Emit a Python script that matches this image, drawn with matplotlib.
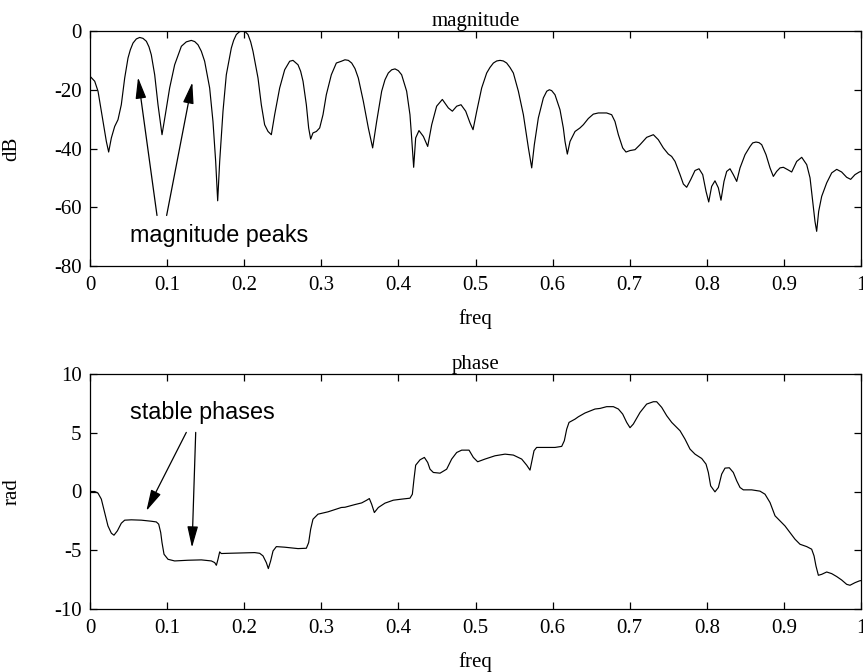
import matplotlib
matplotlib.use("Agg")
import matplotlib.pyplot as plt
from matplotlib.ticker import FuncFormatter

plt.rcParams["axes.unicode_minus"] = False
plt.rcParams["font.family"] = ["Liberation Serif", "DejaVu Serif"]

# ---- magnitude response (dB) ----
mag_freq = [
    0.0, 0.0061, 0.0104, 0.0169, 0.0212, 0.0242, 0.0277, 0.0320, 0.0363, 0.0406,
    0.0450, 0.0493, 0.0523, 0.0558, 0.0601, 0.0644, 0.0687, 0.0731, 0.0765, 0.0795,
    0.0839, 0.0882, 0.0934, 0.0977, 0.1033, 0.1098, 0.1185, 0.1249, 0.1314, 0.1358,
    0.1401, 0.1444, 0.1487, 0.1552, 0.1595, 0.1630, 0.1656, 0.1682, 0.1725, 0.1768,
    0.1833, 0.1863, 0.1898, 0.1941, 0.1984, 0.2015, 0.2049, 0.2084, 0.2114, 0.2179,
    0.2222, 0.2265, 0.2309, 0.2352, 0.2395, 0.2460, 0.2525, 0.2590, 0.2633, 0.2698,
    0.2732, 0.2763, 0.2806, 0.2836, 0.2862, 0.2892, 0.2936, 0.2979, 0.3022, 0.3065,
    0.3130, 0.3195, 0.3260, 0.3307, 0.3351, 0.3394, 0.3437, 0.3480, 0.3545, 0.3610,
    0.3666, 0.3718, 0.3783, 0.3826, 0.3869, 0.3913, 0.3956, 0.3999, 0.4042, 0.4107,
    0.4150, 0.4172, 0.4198, 0.4224, 0.4267, 0.4324, 0.4380, 0.4432, 0.4496, 0.4570,
    0.4648, 0.4700, 0.4756, 0.4812, 0.4873, 0.4929, 0.4968, 0.5016, 0.5080, 0.5145,
    0.5188, 0.5232, 0.5275, 0.5318, 0.5361, 0.5404, 0.5447, 0.5491, 0.5556, 0.5621,
    0.5686, 0.5729, 0.5763, 0.5815, 0.5880, 0.5924, 0.5958, 0.5988, 0.6031, 0.6096,
    0.6139, 0.6161, 0.6191, 0.6226, 0.6291, 0.6355, 0.6399, 0.6463, 0.6528, 0.6593,
    0.6615, 0.6701, 0.6766, 0.6809, 0.6853, 0.6909, 0.6952, 0.7004, 0.7069, 0.7134,
    0.7220, 0.7307, 0.7371, 0.7436, 0.7501, 0.7544, 0.7588, 0.7653, 0.7696, 0.7739,
    0.7791, 0.7847, 0.7899, 0.7947, 0.7990, 0.8025, 0.8063, 0.8106, 0.8150, 0.8184,
    0.8223, 0.8258, 0.8301, 0.8344, 0.8388, 0.8431, 0.8496, 0.8561, 0.8595, 0.8638,
    0.8677, 0.8712, 0.8768, 0.8820, 0.8863, 0.8906, 0.8950, 0.8993, 0.9049, 0.9101,
    0.9166, 0.9231, 0.9296, 0.9339, 0.9373, 0.9403, 0.9425, 0.9451, 0.9490, 0.9555,
    0.9620, 0.9685, 0.9749, 0.9814, 0.9866, 0.9922, 0.9978, 1.0,
]
mag_db = [
    -15.4, -17.1, -20.5, -30.8, -37.6, -41.2, -36.4, -32.5, -30.2, -25.1,
    -16.0, -9.2, -6.4, -4.1, -2.7, -2.2, -2.5, -3.5, -5.4, -8.1,
    -14.9, -25.1, -35.3, -28.5, -19.4, -11.5, -5.2, -3.7, -3.2, -3.6,
    -4.7, -6.9, -10.3, -19.4, -30.8, -44.4, -57.8, -44.4, -27.3, -14.9,
    -5.8, -3.2, -1.2, -0.2, -0.05, -0.3, -1.2, -3.7, -6.9, -16.0,
    -25.1, -31.9, -34.2, -35.3, -28.5, -19.4, -13.2, -10.3, -10.0, -11.5,
    -13.7, -17.1, -25.1, -33.0, -36.8, -34.7, -34.2, -33.0, -28.5, -21.7,
    -14.9, -10.9, -10.3, -9.8, -10.0, -10.9, -12.8, -16.0, -23.9, -33.0,
    -39.8, -30.8, -20.5, -16.6, -14.3, -13.2, -12.9, -13.5, -14.9, -20.5,
    -28.5, -36.4, -46.4, -36.4, -33.9, -35.9, -39.3, -31.9, -25.6, -23.3,
    -26.2, -27.3, -25.6, -25.1, -27.3, -31.3, -33.6, -27.3, -19.4, -14.3,
    -12.4, -10.9, -10.2, -10.0, -10.2, -10.9, -12.4, -14.3, -20.5, -28.5,
    -39.8, -46.6, -38.7, -29.6, -22.8, -20.5, -20.0, -20.3, -21.7, -26.8,
    -33.0, -37.6, -41.9, -37.6, -34.2, -33.0, -31.9, -29.8, -28.3, -27.9,
    -27.9, -27.9, -28.5, -30.8, -35.3, -39.8, -41.2, -40.7, -40.4, -38.7,
    -36.2, -35.3, -37.0, -39.8, -41.9, -42.7, -44.4, -48.9, -52.1, -53.2,
    -50.6, -47.5, -46.9, -48.9, -54.6, -58.2, -52.9, -51.0, -53.4, -57.6,
    -51.2, -47.8, -46.9, -48.9, -51.2, -46.6, -42.1, -39.3, -38.1, -37.8,
    -38.0, -38.7, -42.1, -46.6, -49.5, -47.8, -46.6, -46.4, -47.2, -48.0,
    -44.4, -43.0, -45.5, -50.0, -58.0, -64.8, -68.2, -61.4, -56.3, -51.7,
    -48.3, -47.1, -48.0, -49.8, -50.5, -48.9, -48.0, -47.8,
]

# ---- unwrapped phase (rad) ----
phase_freq = [
    0.0, 0.0061, 0.0104, 0.0147, 0.0190, 0.0233, 0.0277, 0.0311, 0.0355, 0.0406,
    0.0450, 0.0536, 0.0666, 0.0795, 0.0860, 0.0891, 0.0917, 0.0934, 0.0960, 0.1012,
    0.1098, 0.1271, 0.1444, 0.1574, 0.1617, 0.1639, 0.1660, 0.1682, 0.1703, 0.1790,
    0.1963, 0.2136, 0.2201, 0.2244, 0.2287, 0.2313, 0.2343, 0.2374, 0.2417, 0.2525,
    0.2698, 0.2806, 0.2836, 0.2862, 0.2892, 0.2957, 0.3087, 0.3260,
    0.3307, 0.3437, 0.3524, 0.3589, 0.3623, 0.3653, 0.3688, 0.3740, 0.3826, 0.3934,
    0.4042, 0.4150, 0.4181, 0.4202, 0.4224, 0.4281, 0.4337, 0.4380, 0.4410, 0.4453,
    0.4540, 0.4626, 0.4691, 0.4756, 0.4821, 0.4916, 0.4972, 0.5028, 0.5123, 0.5253,
    0.5383, 0.5491, 0.5599, 0.5664, 0.5707, 0.5737, 0.5759, 0.5793, 0.5901, 0.6031,
    0.6118, 0.6152, 0.6183, 0.6213, 0.6291, 0.6334, 0.6420, 0.6550,
    0.6615, 0.6701, 0.6788, 0.6853, 0.6909, 0.6961, 0.7004, 0.7047, 0.7134, 0.7220,
    0.7307, 0.7350, 0.7415, 0.7480, 0.7545, 0.7653, 0.7717, 0.7782, 0.7847, 0.7934,
    0.7990, 0.8020, 0.8050, 0.8106, 0.8150, 0.8193, 0.8236, 0.8292, 0.8344, 0.8388,
    0.8431, 0.8474, 0.8582, 0.8690, 0.8755, 0.8820, 0.8885, 0.8950, 0.9014, 0.9079,
    0.9144, 0.9209, 0.9296, 0.9360, 0.9391, 0.9416, 0.9447, 0.9490, 0.9555, 0.9620,
    0.9685, 0.9749, 0.9814, 0.9857, 0.9922, 0.9978, 1.0,
]
phase_rad = [
    0.0, 0.0, -0.14, -0.65, -1.79, -2.93, -3.55, -3.72, -3.35, -2.70,
    -2.44, -2.41, -2.44, -2.53, -2.59, -2.78, -3.49, -4.35, -5.34, -5.77,
    -5.91, -5.85, -5.82, -5.91, -6.05, -6.28, -5.77, -5.14, -5.28, -5.26,
    -5.23, -5.20, -5.26, -5.48, -6.05, -6.56, -5.91, -5.06, -4.69, -4.74,
    -4.86, -4.83, -4.35, -3.21, -2.36, -1.93, -1.73, -1.36,
    -1.34, -1.11, -0.97, -0.74, -0.60, -1.08, -1.79, -1.36, -0.99, -0.74,
    -0.65, -0.57, -0.23, 1.05, 2.24, 2.70, 2.90, 2.47, 1.90, 1.62,
    1.56, 1.90, 2.76, 3.32, 3.52, 3.52, 2.90, 2.53, 2.76, 3.04,
    3.18, 3.10, 2.76, 2.24, 1.82, 2.76, 3.47, 3.75, 3.75, 3.75,
    3.84, 4.32, 5.31, 5.88, 6.16, 6.36, 6.68, 7.02,
    7.07, 7.22, 7.22, 7.02, 6.59, 5.88, 5.43, 5.74, 6.73, 7.44,
    7.64, 7.64, 7.16, 6.45, 5.88, 5.17, 4.46, 3.61, 3.18, 2.81,
    2.33, 1.62, 0.48, -0.03, 0.34, 1.48, 1.99, 2.02, 1.62, 0.91,
    0.34, 0.14, 0.14, 0.03, -0.23, -0.94, -2.07, -2.50, -2.93, -3.49,
    -4.06, -4.49, -4.69, -4.91, -5.48, -6.34, -7.13, -7.05, -6.85, -6.99,
    -7.24, -7.53, -7.90, -7.98, -7.76, -7.61, -7.58,
]

freq_ticks = [0, 0.1, 0.2, 0.3, 0.4, 0.5, 0.6, 0.7, 0.8, 0.9, 1.0]
mag_ticks = [-80, -60, -40, -20, 0]
phase_ticks = [-10, -5, 0, 5, 10]

FS = 15
ANN_FS = 16.8
SANS = ["Liberation Sans", "DejaVu Sans"]

fig = plt.figure(figsize=(8.63, 6.72), dpi=100)
ax1 = fig.add_axes([90 / 863, 1 - 266 / 672, 771 / 863, 235 / 672])
ax2 = fig.add_axes([90 / 863, 1 - 609 / 672, 771 / 863, 235 / 672])

fmt = FuncFormatter(lambda v, p: "%g" % v)


def style(ax, yticks, ylim, title, ylabel):
    ax.set_xlim(0, 1)
    ax.set_ylim(*ylim)
    ax.set_xticks(freq_ticks)
    ax.set_yticks(yticks)
    ax.xaxis.set_major_formatter(fmt)
    ax.yaxis.set_major_formatter(fmt)
    ax.tick_params(direction="in", top=True, right=True, length=5,
                   width=0.9, labelsize=FS, pad=7, colors="black")
    ax.tick_params(axis="y", pad=6)
    for s in ax.spines.values():
        s.set_linewidth(0.9)
    ax.set_title(title, fontsize=FS, pad=3.5)
    ax.set_xlabel("freq", fontsize=FS, labelpad=10)
    ax.set_ylabel(ylabel, fontsize=FS)
    ax.yaxis.set_label_coords(-0.089, 0.5)


ax1.plot(mag_freq, mag_db, color="black", linewidth=0.85,
         solid_joinstyle="round")
style(ax1, mag_ticks, (-80, 0), "magnitude", "dB")

ax2.plot(phase_freq, phase_rad, color="black", linewidth=0.85,
         solid_joinstyle="round")
style(ax2, phase_ticks, (-10, 10), "phase", "rad")

arrow_kw = dict(arrowstyle="-|>,head_length=13,head_width=3.3",
                mutation_scale=1, color="black", lw=0.9,
                shrinkA=0, shrinkB=0)

ax1.text(0.0519, -71.7, "magnitude peaks", fontsize=ANN_FS, family=SANS,
         va="baseline", ha="left")
ax1.annotate("", xy=(0.0623, -15.8), xytext=(0.0869, -62.8), arrowprops=arrow_kw)
ax1.annotate("", xy=(0.1327, -17.5), xytext=(0.0994, -62.8), arrowprops=arrow_kw)

ax2.text(0.0519, 6.14, "stable phases", fontsize=ANN_FS, family=SANS,
         va="baseline", ha="left")
ax2.annotate("", xy=(0.0731, -1.65), xytext=(0.1249, 5.03), arrowprops=arrow_kw)
ax2.annotate("", xy=(0.1323, -4.77), xytext=(0.1371, 5.03), arrowprops=arrow_kw)

fig.savefig("out.png", dpi=100)
